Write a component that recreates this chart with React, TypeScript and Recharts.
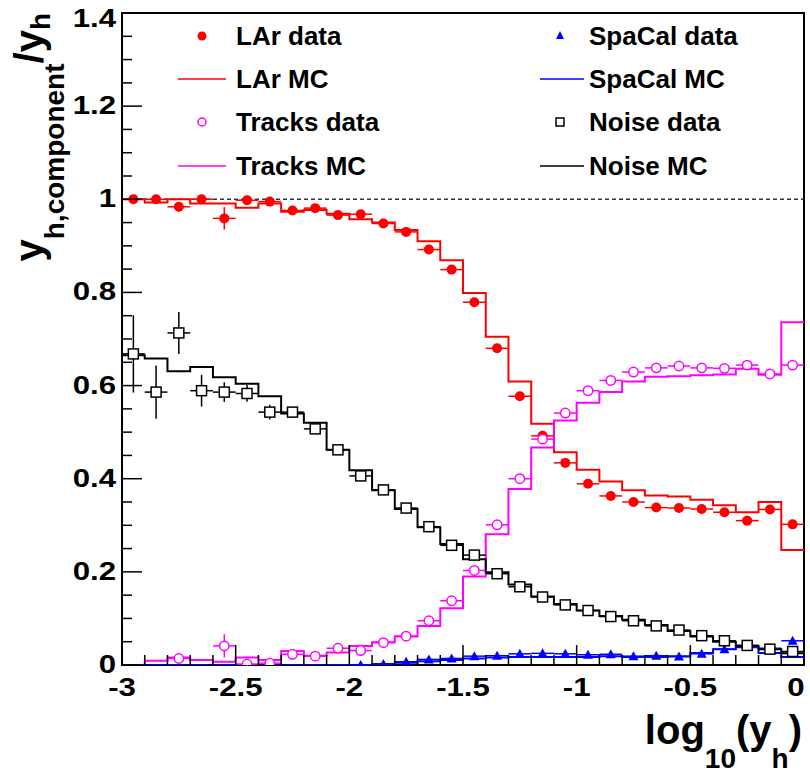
import {
  ComposedChart,
  ErrorBar,
  Label,
  Line,
  ReferenceArea,
  ReferenceLine,
  Scatter,
  XAxis,
  YAxis,
} from "recharts";

// 30 bins of width 0.1 in log10(y_h)
const BIN_EDGES = [
  -3, -2.9, -2.8, -2.7, -2.6, -2.5, -2.4, -2.3, -2.2, -2.1, -2, -1.9, -1.8, -1.7, -1.6, -1.5,
  -1.4, -1.3, -1.2, -1.1, -1, -0.9, -0.8, -0.7, -0.6, -0.5, -0.4, -0.3, -0.2, -0.1, 0,
];
const BIN_CENTERS = [
  -2.95, -2.85, -2.75, -2.65, -2.55, -2.45, -2.35, -2.25, -2.15, -2.05, -1.95, -1.85, -1.75, -1.65,
  -1.55, -1.45, -1.35, -1.25, -1.15, -1.05, -0.95, -0.85, -0.75, -0.65, -0.55, -0.45, -0.35, -0.25,
  -0.15, -0.05,
];
const HALF_BIN = 0.05;

const X_MAJOR = [-3, -2.5, -2, -1.5, -1, -0.5, 0];
const Y_TICKS = [
  0, 0.05, 0.1, 0.15, 0.2, 0.25, 0.3, 0.35, 0.4, 0.45, 0.5, 0.55, 0.6, 0.65, 0.7, 0.75, 0.8, 0.85,
  0.9, 0.95, 1, 1.05, 1.1, 1.15, 1.2, 1.25, 1.3, 1.35, 1.4,
];
const Y_MAJOR = [0, 0.2, 0.4, 0.6, 0.8, 1, 1.2, 1.4];

// LAr
const LAR_DATA = [
  1.0, 1.0, 0.984, 1.0, 0.959, 0.998, 0.995, 0.976, 0.981, 0.966, 0.968, 0.948, 0.93, 0.892, 0.849,
  0.779, 0.68, 0.577, 0.492, 0.434, 0.389, 0.363, 0.35, 0.338, 0.337, 0.335, 0.328, 0.31, 0.334, 0.302,
];
const LAR_ERR = [
  0.003, 0.003, 0.01, 0.003, 0.024, 0.003, 0.003, 0.003, 0.003, 0.003, 0.003, 0.003, 0.003, 0.003,
  0.003, 0.003, 0.003, 0.003, 0.004, 0.004, 0.003, 0.003, 0.003, 0.003, 0.003, 0.003, 0.003, 0.003,
  0.004, 0.004,
];
const LAR_MC = [
  1.0, 0.993, 1.0, 0.991, 0.991, 0.982, 0.991, 0.973, 0.977, 0.969, 0.957, 0.95, 0.934, 0.91, 0.869,
  0.799, 0.705, 0.609, 0.518, 0.457, 0.419, 0.394, 0.375, 0.364, 0.362, 0.355, 0.343, 0.328, 0.35, 0.247,
];

// Tracks
const TRACKS_DATA = [
  null, null, 0.014, null, 0.041, 0.002, 0.004, 0.023, 0.019, 0.036, 0.031, 0.048, 0.062, 0.095,
  0.138, 0.203, 0.301, 0.4, 0.485, 0.541, 0.589, 0.611, 0.629, 0.638, 0.642, 0.638, 0.637, 0.644,
  0.625, 0.644,
];
const TRACKS_ERR = [
  0, 0, 0.006, 0, 0.025, 0.004, 0.004, 0.004, 0.004, 0.004, 0.003, 0.003, 0.003, 0.003, 0.003,
  0.003, 0.003, 0.003, 0.003, 0.003, 0.003, 0.003, 0.003, 0.003, 0.003, 0.003, 0.003, 0.003, 0.004,
  0.004,
];
const TRACKS_MC = [
  0, 0.009, 0.016, 0.011, 0.007, 0.016, 0.011, 0.03, 0.02, 0.027, 0.041, 0.049, 0.061, 0.084, 0.122,
  0.19, 0.281, 0.378, 0.467, 0.525, 0.563, 0.586, 0.609, 0.619, 0.62, 0.622, 0.624, 0.636, 0.623, 0.736,
];

// SpaCal
const SPACAL_DATA = [
  null, null, null, null, null, null, null, null, null, null, 0.0, 0.002, 0.007, 0.012, 0.014, 0.019,
  0.02, 0.024, 0.025, 0.024, 0.022, 0.023, 0.019, 0.02, 0.018, 0.024, 0.034, 0.042, 0.036, 0.052,
];
const SPACAL_ERR = [
  0, 0, 0, 0, 0, 0, 0, 0, 0, 0, 0.002, 0.002, 0.002, 0.002, 0.002, 0.002, 0.002, 0.002, 0.002,
  0.002, 0.002, 0.002, 0.002, 0.002, 0.002, 0.002, 0.003, 0.003, 0.003, 0.003,
];
const SPACAL_MC = [
  0, 0, 0, 0, 0, 0, 0, 0, 0, 0, 0.0, 0.002, 0.005, 0.008, 0.011, 0.014, 0.016, 0.017, 0.017, 0.017,
  0.017, 0.019, 0.017, 0.017, 0.019, 0.026, 0.034, 0.038, 0.026, 0.017,
];

// Noise
const NOISE_DATA = [
  0.668, 0.586, 0.713, 0.589, 0.586, 0.583, 0.543, 0.543, 0.507, 0.462, 0.406, 0.376, 0.337, 0.297,
  0.257, 0.236, 0.196, 0.168, 0.146, 0.129, 0.117, 0.104, 0.095, 0.084, 0.075, 0.063, 0.052, 0.042,
  0.034, 0.029,
];
const NOISE_ERR = [
  0.083, 0.057, 0.045, 0.034, 0.021, 0.018, 0.016, 0.01, 0.008, 0.006, 0.005, 0.004, 0.004, 0.004,
  0.004, 0.004, 0.003, 0.003, 0.003, 0.003, 0.003, 0.003, 0.003, 0.003, 0.003, 0.003, 0.003, 0.003,
  0.003, 0.003,
];
const NOISE_MC = [
  0.665, 0.658, 0.631, 0.64, 0.618, 0.604, 0.577, 0.54, 0.52, 0.462, 0.418, 0.375, 0.335, 0.296,
  0.26, 0.227, 0.199, 0.173, 0.147, 0.131, 0.117, 0.105, 0.097, 0.086, 0.073, 0.061, 0.05, 0.041,
  0.034, 0.025,
];

const RED = "#ff0000";
const MAGENTA = "#ff00ff";
const BLUE = "#0000ff";
const BLACK = "#000000";
const FONT = '"Liberation Sans", Arial, Helvetica, sans-serif';

// stepAfter needs one point per edge; the last edge repeats the last bin
const toHist = (vals: number[]) =>
  BIN_EDGES.map((x, i) => ({ x, y: vals[Math.min(i, vals.length - 1)] }));

const toPoints = (vals: (number | null)[], errs: number[]) =>
  BIN_CENTERS.map((x, i) => ({ x, y: vals[i], ex: HALF_BIN, ey: errs[i] })).filter(
    (p) => p.y !== null,
  );

const near = (list: number[], v: number) => list.some((m) => Math.abs(m - v) < 1e-6);

function XTick(props: any) {
  const { x, y, payload } = props;
  const major = near(X_MAJOR, payload.value);
  // last label nudged left so it is not clipped by the canvas edge
  const lx = Math.min(x, 796);
  return (
    <g>
      <line x1={x} x2={x} y1={y} y2={y - (major ? 20 : 10)} stroke={BLACK} strokeWidth={1.5} />
      {major && (
        <text
          transform={`translate(${lx},${y + 31}) scale(1.2,1)`}
          textAnchor="middle"
          fontFamily={FONT}
          fontWeight={700}
          fontSize={26}
          fill={BLACK}
        >
          {String(payload.value)}
        </text>
      )}
    </g>
  );
}

function YTick(props: any) {
  const { x, y, payload } = props;
  const major = near(Y_MAJOR, payload.value);
  // top label is pushed down a little so it stays inside the canvas
  const baseline = Math.max(y + 8, 27);
  return (
    <g>
      <line x1={x} x2={x + (major ? 20 : 10)} y1={y} y2={y} stroke={BLACK} strokeWidth={1.5} />
      {major && (
        <text
          transform={`translate(${x - 6},${baseline}) scale(1.2,1)`}
          textAnchor="end"
          fontFamily={FONT}
          fontWeight={700}
          fontSize={26}
          fill={BLACK}
        >
          {String(payload.value)}
        </text>
      )}
    </g>
  );
}

function XTitle() {
  return (
    <text x={802} y={744} textAnchor="end" fontFamily={FONT} fontWeight={700} fontSize={40} fill={BLACK}>
      log
      <tspan dy={24} fontSize={28}>10</tspan>
      <tspan dy={-24}>(y</tspan>
      <tspan dy={24} fontSize={28}>h</tspan>
      <tspan dy={-24}>)</tspan>
    </text>
  );
}

function YTitle() {
  return (
    <text
      transform="translate(43,13) rotate(-90)"
      textAnchor="end"
      fontFamily={FONT}
      fontWeight={700}
      fontSize={40}
      fill={BLACK}
    >
      y
      <tspan dy={21} fontSize={28}>h,component</tspan>
      <tspan dy={-21}>/y</tspan>
      <tspan dy={7} fontSize={28}>h</tspan>
    </text>
  );
}

const dot = (p: any) => <circle cx={p.cx} cy={p.cy} r={5} fill={RED} />;
const ring = (p: any) => (
  <circle cx={p.cx} cy={p.cy} r={4.7} fill="#fff" stroke={MAGENTA} strokeWidth={1.5} />
);
const tri = (p: any) => (
  <path d={`M${p.cx},${p.cy - 5} L${p.cx + 5},${p.cy + 4} L${p.cx - 5},${p.cy + 4} Z`} fill={BLUE} />
);
const box = (p: any) => (
  <rect x={p.cx - 5} y={p.cy - 5} width={10} height={10} fill="#fff" stroke={BLACK} strokeWidth={1.5} />
);

function Legend() {
  const text = { fontFamily: FONT, fontWeight: 700, fontSize: 26, fill: BLACK } as const;
  return (
    <svg
      width={810}
      height={200}
      style={{ position: "absolute", left: 0, top: 0, pointerEvents: "none" }}
    >
      <circle cx={202} cy={36} r={4.5} fill={RED} />
      <text x={236} y={45} {...text}>LAr data</text>
      <line x1={178} x2={226} y1={79} y2={79} stroke={RED} strokeWidth={1.5} />
      <text x={236} y={88} {...text}>LAr MC</text>
      <circle cx={202} cy={122} r={4} fill="#fff" stroke={MAGENTA} strokeWidth={1.5} />
      <text x={236} y={131} {...text}>Tracks data</text>
      <line x1={178} x2={226} y1={166} y2={166} stroke={MAGENTA} strokeWidth={1.5} />
      <text x={236} y={175} {...text}>Tracks MC</text>

      <path d="M560,31 L564,39 L556,39 Z" fill={BLUE} />
      <text x={589} y={45} {...text}>SpaCal data</text>
      <line x1={540} x2={584} y1={79} y2={79} stroke={BLUE} strokeWidth={1.5} />
      <text x={589} y={88} {...text}>SpaCal MC</text>
      <rect x={556} y={118} width={8} height={8} fill="#fff" stroke={BLACK} strokeWidth={1.5} />
      <text x={589} y={131} {...text}>Noise data</text>
      <line x1={540} x2={584} y1={166} y2={166} stroke={BLACK} strokeWidth={1.5} />
      <text x={589} y={175} {...text}>Noise MC</text>
    </svg>
  );
}

export default function App() {
  const series = [
    { key: "lar", mc: LAR_MC, data: LAR_DATA, err: LAR_ERR, color: RED, shape: dot },
    { key: "tracks", mc: TRACKS_MC, data: TRACKS_DATA, err: TRACKS_ERR, color: MAGENTA, shape: ring },
    { key: "spacal", mc: SPACAL_MC, data: SPACAL_DATA, err: SPACAL_ERR, color: BLUE, shape: tri },
    { key: "noise", mc: NOISE_MC, data: NOISE_DATA, err: NOISE_ERR, color: BLACK, shape: box },
  ];

  return (
    <div style={{ position: "absolute", left: 0, top: 0, width: 810, height: 774, background: "#fff" }}>
      <ComposedChart width={810} height={774} margin={{ top: 13, right: 6, bottom: 0, left: 0 }}>
        <XAxis
          type="number"
          dataKey="x"
          domain={[-3, 0]}
          allowDataOverflow
          ticks={BIN_EDGES}
          interval={0}
          height={109}
          tickSize={0}
          tickMargin={0}
          axisLine={false}
          tickLine={false}
          tick={XTick}
        >
          <Label content={XTitle} />
        </XAxis>
        <YAxis
          type="number"
          dataKey="y"
          domain={[0, 1.4]}
          allowDataOverflow
          ticks={Y_TICKS}
          interval={0}
          width={122}
          tickSize={0}
          tickMargin={0}
          axisLine={false}
          tickLine={false}
          tick={YTick}
        >
          <Label content={YTitle} />
        </YAxis>

        <ReferenceLine y={1} stroke="#333" strokeWidth={1.5} strokeDasharray="4 3" />

        {series.map((s) => (
          <Line
            key={`${s.key}-mc`}
            data={toHist(s.mc)}
            dataKey="y"
            type="stepAfter"
            stroke={s.color}
            strokeWidth={2}
            dot={false}
            activeDot={false}
            isAnimationActive={false}
          />
        ))}

        {series.map((s) => (
          <Scatter
            key={`${s.key}-data`}
            data={toPoints(s.data, s.err)}
            shape={s.shape}
            isAnimationActive={false}
          >
            <ErrorBar dataKey="ey" direction="y" width={0} stroke={s.color} strokeWidth={1.5} />
            <ErrorBar dataKey="ex" direction="x" width={0} stroke={s.color} strokeWidth={1.5} />
          </Scatter>
        ))}

        <ReferenceArea
          x1={-3}
          x2={0}
          y1={0}
          y2={1.4}
          fill="none"
          fillOpacity={0}
          stroke={BLACK}
          strokeWidth={2}
        />
      </ComposedChart>
      <Legend />
    </div>
  );
}
